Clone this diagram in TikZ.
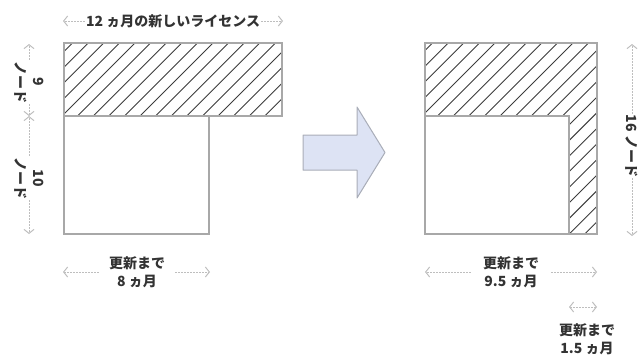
\documentclass[tikz,border=0pt]{standalone}
\usepackage{fontspec}
\setmainfont{Noto Sans CJK JP}
\usepackage{xcolor}
\usepackage{tikz}
\usetikzlibrary{arrows.meta, positioning}

\definecolor{boxline}{HTML}{A8A8A8}
\definecolor{hatchline}{HTML}{3C3C3C}
\definecolor{dimline}{HTML}{BEBEBE}
\definecolor{dimtextcol}{HTML}{333333}
\definecolor{bigarrowfill}{HTML}{DDE3F4}
\definecolor{bigarrowline}{HTML}{A9ADB8}

\begin{document}
\begin{tikzpicture}[
    x=1pt, y=-1pt,
    >={Straight Barb[length=4pt, width=10pt]},
    box/.style={draw=boxline, line width=1.2pt},
    hatch/.style={draw=hatchline, line width=0.9pt},
    dimarrow/.style={draw=dimline, line width=1pt, dash pattern=on 1.6pt off 1.4pt, ->},
    dimtext/.style={text=dimtextcol, font=\fontsize{14}{17.5}\selectfont\bfseries, align=center, inner sep=1pt},
    bigarrow/.style={fill=bigarrowfill, draw=bigarrowline, line width=1pt, line join=round}
]
\useasboundingbox (0,0) rectangle (642,354);

% hatching
\begin{scope}
\clip (64,43) rectangle (282,116);
\foreach \c in {-30,-14.4,...,290} \draw[hatch] (\c,130) -- ++(100,-100);
\end{scope}
\begin{scope}
\clip (425,43) -- (597,43) -- (597,234) -- (569,234) -- (569,116) -- (425,116) -- cycle;
\foreach \c in {210,225.6,...,590} \draw[hatch] (\c,250) -- ++(220,-220);
\end{scope}

% boxes
\draw[box] (64,43) rectangle (282,116);
\draw[box] (64,116) rectangle (209,234);
\draw[box] (425,43) rectangle (597,234);
\draw[box] (425,116) -- (569,116) -- (569,234);

% big arrow
\draw[bigarrow] (303,135) -- (357,135) -- (357,107) -- (385,152.5) -- (357,198) -- (357,170) -- (303,170) -- cycle;

% labels
\node[dimtext] (lic) at (173,21) {12 ヵ月の新しいライセンス};
\node[dimtext, rotate=-90] (n9) at (29,82) {9\\ノード};
\node[dimtext, rotate=-90] (n10) at (29,178) {10\\ノード};
\node[dimtext, rotate=-90] (n16) at (632,146) {16 ノード};
\node[dimtext, inner xsep=10pt] (rem8) at (137,272) {更新まで\\8 ヵ月};
\node[dimtext, inner xsep=12pt] (rem95) at (511,272) {更新まで\\9.5 ヵ月};
\node[dimtext] (rem15) at (587,339) {更新まで\\1.5 ヵ月};

\coordinate (licL) at (63,21);
\coordinate (licR) at (283,21);
\coordinate (n9top) at (29,44);
\coordinate (mid) at (29,116);
\coordinate (n10bot) at (29,234);
\coordinate (n16top) at (632,44);
\coordinate (n16bot) at (632,236);
\coordinate (rem8L) at (63,272);
\coordinate (rem8R) at (210,272);
\coordinate (rem95L) at (425,272);
\coordinate (rem95R) at (597,272);
\coordinate (rem15L) at (569,307);
\coordinate (rem15R) at (597,307);

\draw[dimarrow] (lic) -- (licL);
\draw[dimarrow] (lic) -- (licR);
\draw[dimarrow] (n9) -- (n9top);
\draw[dimarrow] (n9) -- (mid);
\draw[dimarrow] (n10) -- (mid);
\draw[dimarrow] (n10) -- (n10bot);
\draw[dimarrow] (n16) -- (n16top);
\draw[dimarrow] (n16) -- (n16bot);
\draw[dimarrow] (rem8) -- (rem8L);
\draw[dimarrow] (rem8) -- (rem8R);
\draw[dimarrow] (rem95) -- (rem95L);
\draw[dimarrow] (rem95) -- (rem95R);
\draw[dimarrow, <->] (rem15L) -- (rem15R);

\end{tikzpicture}
\end{document}
